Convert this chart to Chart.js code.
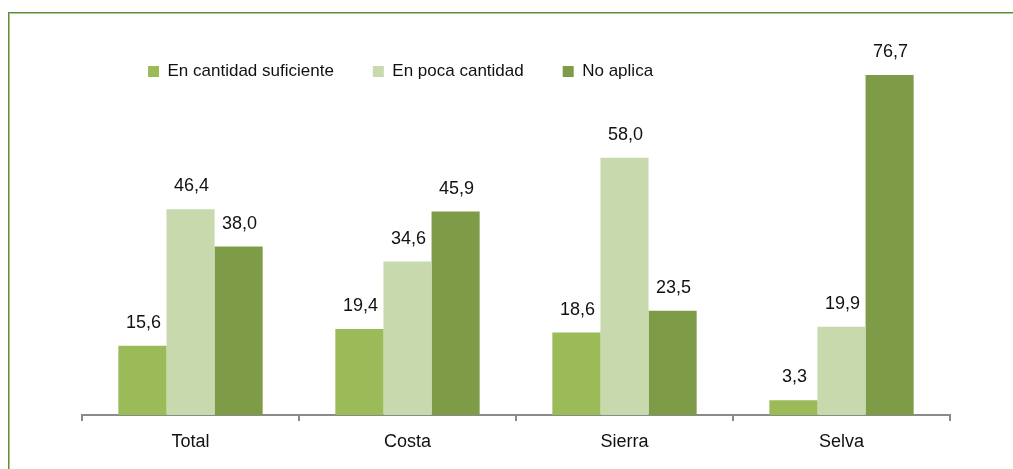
<!DOCTYPE html>
<html>
<head>
<meta charset="utf-8">
<script src="https://cdn.jsdelivr.net/npm/chart.js@4/dist/chart.umd.min.js"></script>
<style>
  html, body { margin: 0; padding: 0; background: #fff; }
  #wrap { position: relative; width: 1013px; height: 469px; overflow: hidden; }
  #frame {
    position: absolute; left: 8px; top: 12px; width: 1020px; height: 470px;
    border-left: 1px solid #5f8f3e; border-top: 1px solid #5f8f3e;
    box-shadow: inset 1px 1px 0 #a9c893;
    pointer-events: none;
  }
</style>
</head>
<body>
<div id="wrap">
  <canvas id="chart" width="1013" height="469"></canvas>
  <div id="frame"></div>
</div>
<script>
// Datos
const categories = ['Total', 'Costa', 'Sierra', 'Selva'];
const seriesNames = ['En cantidad suficiente', 'En poca cantidad', 'No aplica'];
const suficiente = [15.6, 19.4, 18.6, 3.3];
const poca = [46.4, 34.6, 58.0, 19.9];
const noAplica = [38.0, 45.9, 23.5, 76.7];
const colors = ['#9bbb59', '#c8d9ae', '#7e9b47'];

const FONT = '"Liberation Sans", Arial, sans-serif';
const FSIZE = 18;

// etiquetas de valor sobre las barras
const valueLabels = {
    id: 'valueLabels',
    afterDatasetsDraw(chart) {
        const ctx = chart.ctx;
        ctx.save();
        ctx.font = FSIZE + 'px ' + FONT;
        ctx.fillStyle = '#111';
        ctx.textAlign = 'center';
        ctx.textBaseline = 'alphabetic';
        chart.data.datasets.forEach((ds, i) => {
            chart.getDatasetMeta(i).data.forEach((bar, j) => {
                const txt = ds.data[j].toFixed(1).replace('.', ',');
                ctx.fillText(txt, bar.x + 1, bar.y - 18);
            });
        });
        ctx.restore();
    }
};

// mover la leyenda a su sitio
const legendPlace = {
    id: 'legendPlace',
    afterLayout(chart) {
        const lg = chart.legend;
        if (!lg) return;
        const pad = 39;
        lg.left = 148 - pad;
        lg.top = 63 - pad;
        lg.right = chart.width;
        lg.bottom = lg.top + 100;
    }
};

new Chart(document.getElementById('chart').getContext('2d'), {
    type: 'bar',
    data: {
        labels: categories,
        datasets: [
            { label: seriesNames[0], data: suficiente, backgroundColor: colors[0] },
            { label: seriesNames[1], data: poca, backgroundColor: colors[1] },
            { label: seriesNames[2], data: noAplica, backgroundColor: colors[2] }
        ]
    },
    options: {
        responsive: false,
        animation: false,
        categoryPercentage: 0.665,
        barPercentage: 1,
        layout: { padding: { left: 82, right: 63, top: 15, bottom: 0 } },
        plugins: {
            legend: {
                position: 'top',
                align: 'start',
                maxHeight: 1,
                labels: {
                    boxWidth: 11,
                    boxHeight: 11,
                    padding: 39,
                    color: '#111',
                    font: { family: FONT, size: 17 }
                }
            },
            tooltip: { enabled: false }
        },
        scales: {
            x: {
                grid: {
                    offset: true,
                    drawOnChartArea: false,
                    tickLength: 6,
                    color: '#8a8a8a',
                    lineWidth: 2
                },
                border: { display: true, color: '#8a8a8a', width: 2 },
                ticks: { color: '#111', padding: 10, font: { family: FONT, size: FSIZE } },
                afterFit(scale) { scale.height = 54; }
            },
            y: {
                display: false,
                min: 0,
                max: 90
            }
        }
    },
    plugins: [valueLabels, legendPlace]
});
</script>
</body>
</html>
